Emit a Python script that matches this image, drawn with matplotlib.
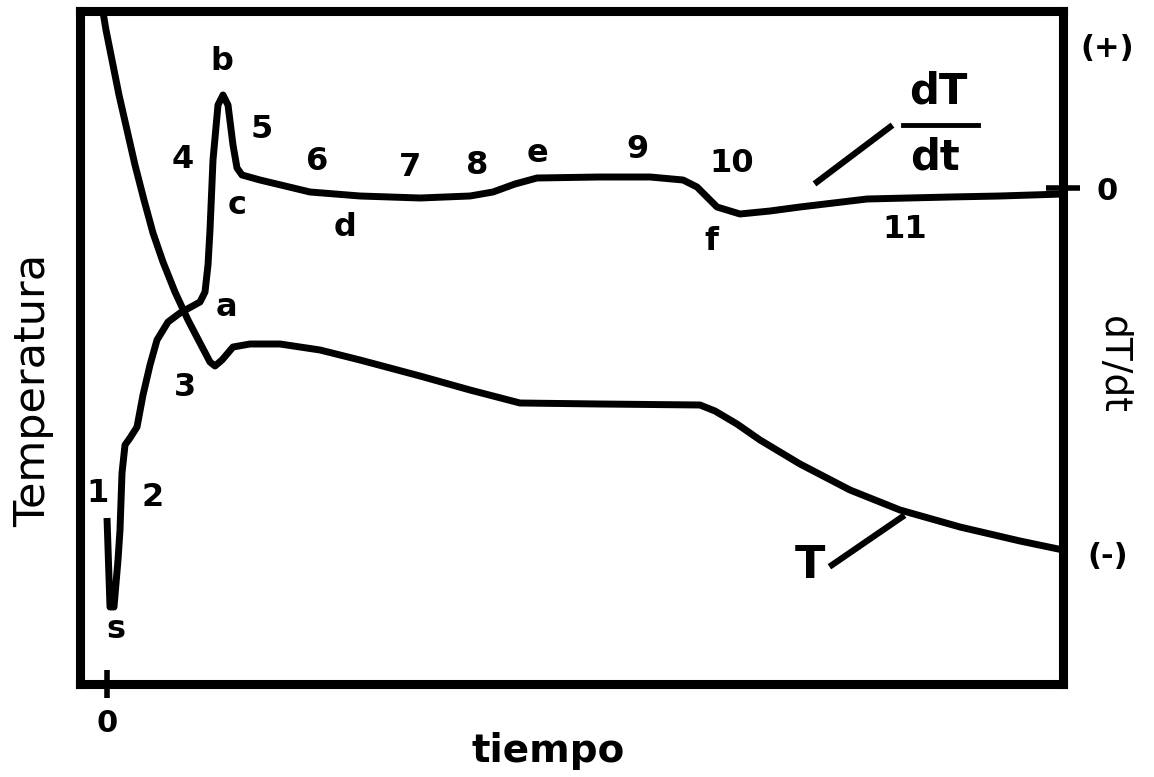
import matplotlib

matplotlib.use("Agg")
import matplotlib.pyplot as plt

# cooling curve (T) and its derivative (dT/dt), arbitrary units
tiempo_T = [-6, -1, 5, 12, 20, 28, 37, 46, 56, 68, 81, 93, 103, 108, 115, 126,
            143, 173, 213, 253, 313, 363, 413, 493, 593, 608, 630, 653, 693,
            743, 793, 853, 913, 956]
temperatura = [684, 654, 624, 589, 554, 519, 484, 451, 422, 392, 364, 341, 322,
               318, 324, 337, 340, 340, 334, 324, 308, 294, 281, 280, 279, 273,
               260, 244, 220, 194, 174, 157, 143, 134]

tiempo_d = [0, 3, 7, 11, 13, 15, 18, 23, 30, 36, 43, 50, 61, 73, 93, 98, 101,
            103, 106, 111, 116, 121, 126, 130, 135, 153, 203, 253, 313, 363,
            386, 408, 430, 493, 543, 576, 590, 598, 610, 633, 663, 693, 760,
            843, 893, 956]
dTdt = [-330, -419, -419, -372, -342, -285, -257, -250, -239, -207, -177, -152,
        -134, -125, -114, -104, -77, -42, 28, 83, 93, 83, 43, 20, 13, 8, -4, -8,
        -10, -8, -4, 4, 10, 11, 11, 8, 1, -7, -19, -26, -23, -19, -11, -9, -8,
        -6]

right_ticks = [143, 0, -365]
right_labels = ["(+)", "0", "(-)"]

# curve labels: text, tiempo, temperatura (left-axis units)
point_labels = [
    ("b", 115, 622), ("4", 76, 524), ("5", 155, 554), ("6", 210, 522),
    ("7", 303, 517), ("8", 370, 519), ("e", 430, 531), ("9", 530, 534),
    ("10", 625, 521), ("c", 130, 478), ("d", 238, 456), ("f", 604, 443),
    ("11", 798, 454), ("a", 119, 377), ("3", 78, 297), ("1", -9, 191),
    ("2", 46, 187), ("s", 9, 55),
]

W, H = 1154, 777
fig = plt.figure(figsize=(W / 100, H / 100), dpi=100)
ax = fig.add_axes([80 / W, 1 - 684 / H, 983 / W, 673 / H])
ax.set_xlim(-27, 956)
ax.set_ylim(0, 673)
ax2 = ax.twinx()
ax2.set_ylim(-496, 177)

for a in (ax, ax2):
    for sp in a.spines.values():
        sp.set_linewidth(6.5)
        sp.set_capstyle("projecting")

lw = 5
ax.plot(tiempo_T, temperatura, color="black", lw=lw, solid_joinstyle="round",
        solid_capstyle="butt")
ax2.plot(tiempo_d, dTdt, color="black", lw=lw, solid_joinstyle="round",
         solid_capstyle="butt")

# axes ticks
ax.set_yticks([])
ax.set_xticks([0], ["0"], fontsize=22, fontweight="bold")
ax.tick_params(axis="x", direction="inout", length=20, width=4, pad=8)

ax2.set_yticks(right_ticks, right_labels, fontsize=22, fontweight="bold")
ax2.tick_params(axis="y", length=0, pad=32)
for lbl in ax2.get_yticklabels():
    lbl.set_horizontalalignment("center")
# only the zero level gets a tick mark crossing the frame
ax2.yaxis.remove_overlapping_locs = False
ax2.set_yticks([0], minor=True)
ax2.tick_params(axis="y", which="minor", direction="inout", length=24, width=4)

bold = dict(fontsize=23, fontweight="bold", ha="center", va="center")
for txt, x, y in point_labels:
    ax.text(x, y, txt, **bold)

# dT/dt fraction label with leader line
ax.text(831, 592, "dT", fontsize=30, fontweight="bold", ha="center", va="center")
ax.plot([796, 871], [559, 559], color="black", lw=3.5)
ax.text(828, 527, "dt", fontsize=30, fontweight="bold", ha="center", va="center")
ax.plot([710, 783], [502, 557], color="black", lw=4.5)

# T label with leader line
ax.text(703, 119, "T", fontsize=32, fontweight="bold", ha="center", va="center")
ax.plot([725, 795], [119, 167], color="black", lw=4.5)

fig.text(548 / W, 1 - 762 / H, "tiempo", fontsize=28, fontweight="bold",
         ha="center", va="baseline")
fig.text(33 / W, 1 - 390 / H, "Temperatura", fontsize=31, rotation=90,
         ha="center", va="center")
fig.text(1113 / W, 1 - 365 / H, "dT/dt", fontsize=27, rotation=-90,
         ha="center", va="center")

fig.savefig("out.png", dpi=100)
